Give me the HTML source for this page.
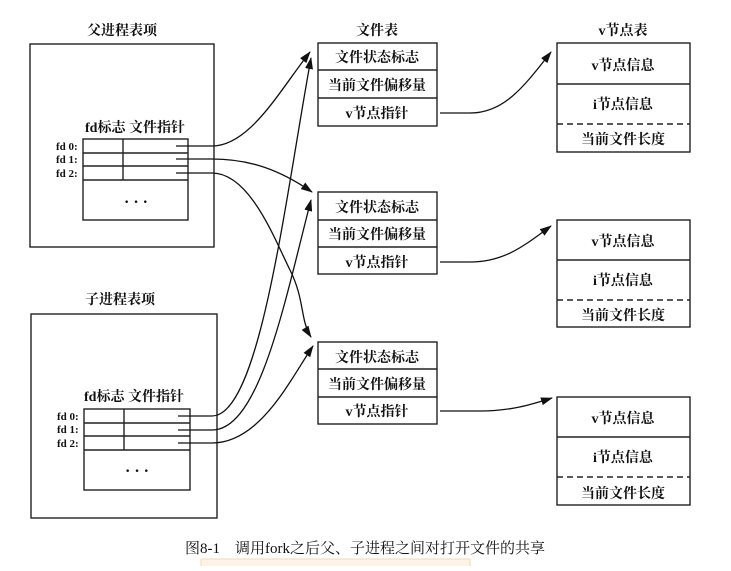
<!DOCTYPE html><html><head><meta charset="utf-8"><style>
body{margin:0;background:#fff;width:731px;height:566px;overflow:hidden}
text{font-family:"Liberation Serif","Noto Serif CJK SC",serif;font-size:14px;fill:#111;font-weight:bold}
</style></head><body>
<svg width="731" height="566" xmlns="http://www.w3.org/2000/svg">
<defs><marker id="a" markerWidth="12" markerHeight="8" refX="11" refY="4" orient="auto" markerUnits="userSpaceOnUse"><path d="M0,0 L12,4 L0,8 z" fill="#111"/></marker></defs>
<g fill="none" stroke="#222" stroke-width="1.4">
<rect x="30" y="44" width="184" height="203"/>
<rect x="83" y="139" width="105" height="81"/>
<line x1="83" y1="153" x2="188" y2="153"/><line x1="83" y1="166" x2="188" y2="166"/><line x1="83" y1="180" x2="188" y2="180"/><line x1="123" y1="139" x2="123" y2="180"/>
<rect x="31" y="314" width="186" height="204"/>
<rect x="84" y="409" width="106" height="81"/>
<line x1="84" y1="423" x2="190" y2="423"/><line x1="84" y1="436" x2="190" y2="436"/><line x1="84" y1="450" x2="190" y2="450"/><line x1="124" y1="409" x2="124" y2="450"/>
<rect x="318" y="43" width="119" height="83"/><line x1="318" y1="70" x2="437" y2="70"/><line x1="318" y1="98" x2="437" y2="98"/>
<rect x="318" y="192" width="119" height="82"/><line x1="318" y1="220" x2="437" y2="220"/><line x1="318" y1="247" x2="437" y2="247"/>
<rect x="318" y="342" width="119" height="82"/><line x1="318" y1="369" x2="437" y2="369"/><line x1="318" y1="397" x2="437" y2="397"/>
<rect x="557" y="43" width="133" height="109"/><line x1="557" y1="84" x2="690" y2="84"/><line x1="557" y1="124" x2="690" y2="124" stroke-dasharray="6,4"/>
<rect x="557" y="220" width="133" height="107"/><line x1="557" y1="260" x2="690" y2="260"/><line x1="557" y1="300" x2="690" y2="300" stroke-dasharray="6,4"/>
<rect x="557" y="397" width="133" height="108"/><line x1="557" y1="437" x2="690" y2="437"/><line x1="557" y1="477" x2="690" y2="477" stroke-dasharray="6,4"/>
</g>
<g fill="none" stroke="#111" stroke-width="1.3" marker-end="url(#a)">
<path d="M176,146 H212 C250,146 280,90 310,52"/>
<path d="M176,159 H212 C250,159 280,170 312,192"/>
<path d="M176,173 H212 C250,173 275,240 290,270 S300,320 311,337"/>
<path d="M178,416 H212 C260,416 285,200 311,58"/>
<path d="M178,430 H212 C260,430 285,300 311,200"/>
<path d="M178,443 H212 C260,443 290,380 313,346"/>
<path d="M440,113 H470 C505,113 525,85 551,52"/>
<path d="M440,262 H470 C505,262 525,245 551,226"/>
<path d="M440,411 H480 C510,411 530,405 552,398"/>
</g>
<g text-anchor="middle">
<text x="122" y="35">父进程表项</text>
<text x="120" y="304">子进程表项</text>
<text x="377" y="35">文件表</text>
<text x="623" y="35">v节点表</text>
<text x="377" y="62">文件状态标志</text><text x="377" y="90">当前文件偏移量</text><text x="377" y="118">v节点指针</text>
<text x="377" y="212">文件状态标志</text><text x="377" y="239">当前文件偏移量</text><text x="377" y="267">v节点指针</text>
<text x="377" y="362">文件状态标志</text><text x="377" y="389">当前文件偏移量</text><text x="377" y="416">v节点指针</text>
<text x="623" y="70">v节点信息</text><text x="623" y="109">i节点信息</text><text x="623" y="144">当前文件长度</text>
<text x="623" y="246">v节点信息</text><text x="623" y="285">i节点信息</text><text x="623" y="320">当前文件长度</text>
<text x="623" y="423">v节点信息</text><text x="623" y="462">i节点信息</text><text x="623" y="498">当前文件长度</text>
<text x="135" y="132">fd标志 文件指针</text>
<text x="134" y="401">fd标志 文件指针</text>
<text x="136" y="207" style="font-size:16px">· · ·</text>
<text x="137" y="476" style="font-size:16px">· · ·</text>
<text x="365" y="553" style="font-size:15px;font-weight:normal">图8-1　调用fork之后父、子进程之间对打开文件的共享</text>
</g>
<g>
<text x="56" y="150" style="font-size:11px">fd 0:</text><text x="56" y="163" style="font-size:11px">fd 1:</text><text x="56" y="177" style="font-size:11px">fd 2:</text>
<text x="57" y="420" style="font-size:11px">fd 0:</text><text x="57" y="433" style="font-size:11px">fd 1:</text><text x="57" y="447" style="font-size:11px">fd 2:</text>
</g>
<rect x="201" y="559" width="269" height="8" fill="#fdf3e6" stroke="#f3d9b5"/>
</svg>
</body></html>
